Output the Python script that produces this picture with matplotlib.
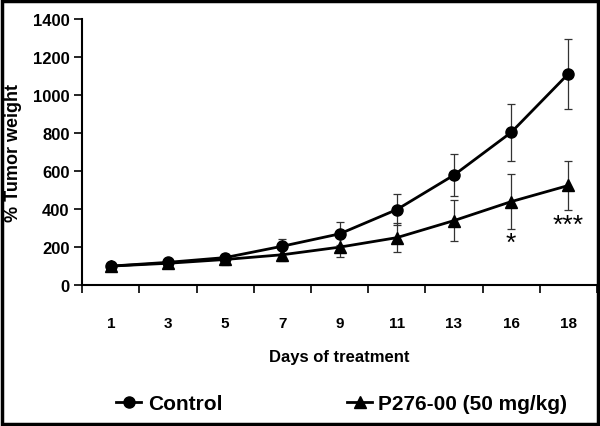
import matplotlib
matplotlib.use('Agg')
import numpy as np
import matplotlib.pyplot as plt
from matplotlib.patches import Rectangle

# ============================================================
# data
# ============================================================
days = ['1', '3', '5', '7', '9', '11', '13', '16', '18']
control = [100, 120, 145, 205, 270, 398, 580, 805, 1114]
control_err = [15, 20, 20, 40, 60, 80, 112, 152, 185]
treated = [100, 115, 135, 160, 200, 250, 340, 440, 525]
treated_err = [15, 20, 30, 35, 52, 78, 110, 145, 130]
stars = {'16': ('*', 225), '18': ('***', 320)}

plt.rcParams['font.family'] = ['Liberation Sans', 'DejaVu Sans']
plt.rcParams['font.weight'] = 'bold'

fig = plt.figure(figsize=(6, 4.27), dpi=100)
ax = fig.add_axes([0.137, 0.330, 0.858, 0.622])

x = np.arange(1, len(days) + 1)
ax.errorbar(x, control, yerr=control_err, fmt='none', ecolor='#333333',
            elinewidth=0.9, capsize=3, capthick=0.9)
ax.errorbar(x, treated, yerr=treated_err, fmt='none', ecolor='#333333',
            elinewidth=0.9, capsize=3, capthick=0.9)
l1, = ax.plot(x, control, '-o', color='black', lw=2, ms=8, label='Control')
l2, = ax.plot(x, treated, '-^', color='black', lw=2, ms=8,
              label='P276-00 (50 mg/kg)')

for d, (s, yv) in stars.items():
    ax.text(days.index(d) + 1, yv, s, ha='center', va='center',
            fontsize=19, fontweight='normal')

ax.set_xlim(0.5, len(days) + 0.5)
ax.set_ylim(0, 1400)
ax.set_yticks(np.arange(0, 1401, 200))
ax.set_xticks(x)
ax.set_xticklabels(days)
ax.set_xticks(np.arange(0.5, len(days) + 1, 1), minor=True)
ax.tick_params(axis='x', which='major', length=0, pad=22, labelsize=11)
ax.tick_params(axis='x', which='minor', length=6, width=1.2, direction='out')
ax.tick_params(axis='y', length=6, width=1.2, labelsize=12, pad=3)
for sp in ['top', 'right']:
    ax.spines[sp].set_visible(False)
for sp in ['left', 'bottom']:
    ax.spines[sp].set_linewidth(1.5)

ax.set_xlabel('Days of treatment', fontsize=12, fontweight='bold', labelpad=14)
ax.set_ylabel('% Tumor weight', fontsize=13, fontweight='bold', labelpad=8)

fig.legend(handles=[l1, l2], loc='center', bbox_to_anchor=(0.57, 0.053),
           ncol=2, frameon=False, handlelength=1.2,
           handletextpad=0.3, columnspacing=6, borderaxespad=0,
           prop={'weight': 'bold', 'size': 15})

fig.add_artist(Rectangle((0.004, 0.004), 0.992, 0.992, transform=fig.transFigure,
                         fill=False, edgecolor='black', lw=2.5))

fig.savefig('out.png', dpi=100)
